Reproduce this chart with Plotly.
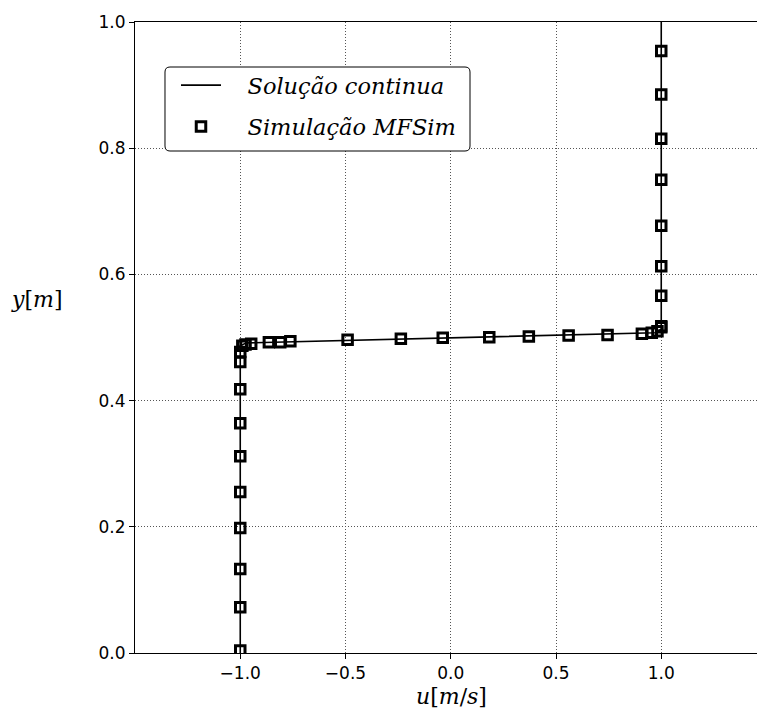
import plotly.graph_objects as go

# Continuous (analytical) velocity profile u(y)
u_exact = [-1.0, -1.0, -0.97, 0.97, 1.0, 1.0]
y_exact = [0.0, 0.487, 0.4915, 0.5075, 0.513, 1.0]

# MFSim simulation samples
u_sim = [-1.0, -1.0, -1.0, -1.0, -1.0, -1.0, -1.0, -1.0, -1.0, -1.0, -0.99,
         -0.975, -0.948, -0.864, -0.810, -0.762, -0.490, -0.237, -0.038,
         0.183, 0.371, 0.560, 0.745, 0.908, 0.955, 0.982, 1.0,
         1.0, 1.0, 1.0, 1.0, 1.0, 1.0, 1.0, 1.0]
y_sim = [0.004, 0.0725, 0.133, 0.198, 0.255, 0.312, 0.364, 0.418, 0.461, 0.477, 0.487,
         0.489, 0.490, 0.4925, 0.4925, 0.494, 0.4963, 0.498, 0.4995,
         0.5005, 0.5016, 0.503, 0.504, 0.506, 0.5075, 0.510, 0.5164,
         0.518, 0.566, 0.613, 0.677, 0.750, 0.815, 0.885, 0.954]

x_ticks = [-1.0, -0.5, 0.0, 0.5, 1.0]
y_ticks = [0.0, 0.2, 0.4, 0.6, 0.8, 1.0]

SERIF = "DejaVu Serif, Liberation Serif, serif"
W, H = 757, 713
ML, MT, MB = 135, 22, 60
PW, PH = W - ML, H - MT - MB
PAD = "\u00a0" * 3  # gap between legend key and label

fig = go.Figure()
fig.add_trace(go.Scatter(
    x=u_exact, y=y_exact, mode="lines",
    line=dict(color="black", width=1.6),
    name=PAD + "<i>Solução continua</i>", legendgroup="exact",
))
fig.add_trace(go.Scatter(
    x=u_sim, y=y_sim, mode="markers",
    marker=dict(symbol="square-open", size=9.5, color="black",
                line=dict(color="black", width=3)),
    name=PAD + "<i>Simulação MFSim</i>", legendgroup="sim",
))


def px2paper(px, py):
    return (px - ML) / PW, (MT + PH - py) / PH


def P(px, py):
    a, b = px2paper(px, py)
    return f"{a:.5f},{b:.5f}"


# rounded frame behind the legend
x0p, y0p, x1p, y1p, r = 165, 67, 470, 151, 5
path = (f"M {P(x0p + r, y0p)} L {P(x1p - r, y0p)} Q {P(x1p, y0p)} {P(x1p, y0p + r)} "
        f"L {P(x1p, y1p - r)} Q {P(x1p, y1p)} {P(x1p - r, y1p)} "
        f"L {P(x0p + r, y1p)} Q {P(x0p, y1p)} {P(x0p, y1p - r)} "
        f"L {P(x0p, y0p + r)} Q {P(x0p, y0p)} {P(x0p + r, y0p)} Z")
fig.add_shape(type="path", path=path, xref="paper", yref="paper",
              line=dict(color="black", width=1), fillcolor="white", layer="above")

grid = dict(showgrid=True, gridcolor="#555555", gridwidth=1, griddash="1px,2px",
            zeroline=False, showline=True, linecolor="black", linewidth=1,
            ticks="outside", ticklen=5, tickcolor="black", tickformat=".1f",
            tickfont=dict(family="DejaVu Sans", size=17, color="black"))

lx, ly = px2paper(176, 64)
fig.update_layout(
    width=W, height=H,
    margin=dict(l=ML, r=0, t=MT, b=MB, autoexpand=False),
    plot_bgcolor="white", paper_bgcolor="white",
    showlegend=True,
    legend=dict(x=lx, y=ly, xanchor="left", yanchor="top",
                bgcolor="rgba(0,0,0,0)", borderwidth=0,
                font=dict(family=SERIF, size=22.5, color="black"),
                itemwidth=40, traceorder="grouped", tracegroupgap=9),
    xaxis=dict(range=[-1.5, -1.5 + PW / 210.5], tickvals=x_ticks, mirror=True, **grid),
    yaxis=dict(range=[0, 1], tickvals=y_ticks, mirror=False, **grid),
    annotations=[
        dict(text="<i>u</i>[<i>m</i>/<i>s</i>]", xref="paper", yref="paper",
             x=(451 - ML) / PW, y=px2paper(0, 696)[1], showarrow=False,
             xanchor="center", yanchor="middle",
             font=dict(family=SERIF, size=22, color="black")),
        dict(text="<i>y</i>[<i>m</i>]", xref="paper", yref="paper",
             x=px2paper(37, 0)[0], y=px2paper(0, 299)[1], showarrow=False,
             xanchor="center", yanchor="middle",
             font=dict(family=SERIF, size=22, color="black")),
    ],
)

fig.write_html("out.html")
